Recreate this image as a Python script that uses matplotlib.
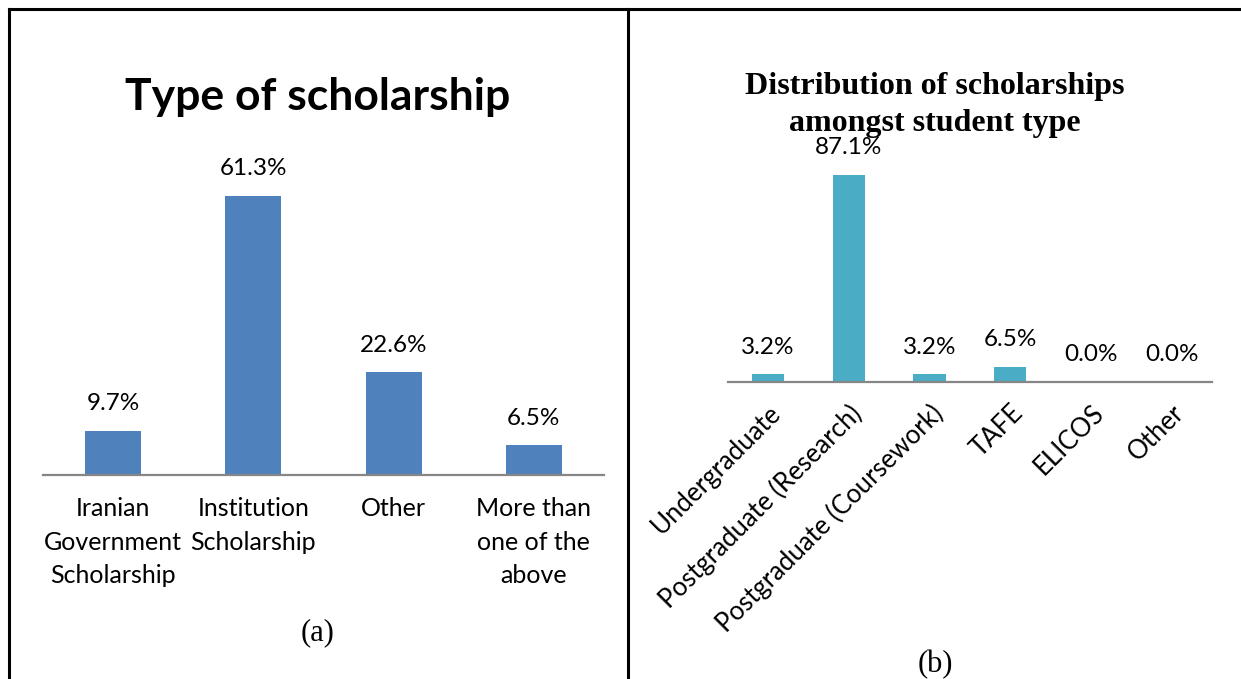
import matplotlib
matplotlib.use("Agg")
import matplotlib.pyplot as plt
from matplotlib.lines import Line2D

# Panel (a): type of scholarship
types = ["Iranian\nGovernment\nScholarship", "Institution\nScholarship", "Other",
         "More than\none of the\nabove"]
type_pct = [9.7, 61.3, 22.6, 6.5]

# Panel (b): scholarships by student type
students = ["Undergraduate", "Postgraduate (Research)", "Postgraduate (Coursework)",
            "TAFE", "ELICOS", "Other"]
student_pct = [3.2, 87.1, 3.2, 6.5, 0.0, 0.0]

W, H = 1241, 679
fig = plt.figure(figsize=(W / 100, H / 100), dpi=100)
fig.patch.set_facecolor("white")

SANS = ["Lato", "DejaVu Sans"]
SERIF = ["Liberation Serif", "DejaVu Serif"]
AXIS_GREY = "#868686"


def px_axes(x0, x1, y_base, y_top):
    return fig.add_axes([x0 / W, 1 - y_base / H, (x1 - x0) / W, (y_base - y_top) / H])


def style(ax):
    for s in ("top", "right", "left"):
        ax.spines[s].set_visible(False)
    ax.spines["bottom"].set_color(AXIS_GREY)
    ax.spines["bottom"].set_linewidth(1.6)
    ax.set_yticks([])
    ax.tick_params(axis="x", length=0)
    ax.set_facecolor("none")


# ---- left chart ----
axL = px_axes(43, 604, 475, 475 - 70 * 4.55)
xL = range(len(types))
barsL = axL.bar(xL, type_pct, width=0.4, color="#4F81BD")
axL.set_xlim(-0.5, len(types) - 0.5)
axL.set_ylim(0, 70)
style(axL)
axL.set_xticks(list(xL))
axL.set_xticklabels(types, family=SANS, fontsize=18, linespacing=1.55)
axL.tick_params(axis="x", pad=16)
for b, v in zip(barsL, type_pct):
    axL.annotate(f"{v:.1f}%", (b.get_x() + b.get_width() / 2, v),
                 xytext=(0, 12), textcoords="offset points",
                 ha="center", va="bottom", family=SANS, fontsize=17.5)
fig.text(318 / W, 1 - 97 / H, "Type of scholarship", ha="center", va="center",
         family=SANS, fontsize=32, fontweight="bold")
fig.text(318 / W, 1 - 633 / H, "(a)", ha="center", va="center",
         family=SERIF, fontsize=22)

# ---- right chart ----
axR = px_axes(727.7, 1212, 382, 382 - 100 * 2.377)
xR = range(len(students))
barsR = axR.bar(xR, student_pct, width=0.4, color="#4BACC6")
axR.set_xlim(-0.5, len(students) - 0.5)
axR.set_ylim(0, 100)
style(axR)
axR.set_xticks(list(xR))
axR.set_xticklabels(students, family=SANS, fontsize=18.5, rotation=45,
                    ha="right", va="top", rotation_mode="anchor")
axR.tick_params(axis="x", pad=13)
for b, v in zip(barsR, student_pct):
    axR.annotate(f"{v:.1f}%", (b.get_x() + b.get_width() / 2, v),
                 xytext=(0, 12), textcoords="offset points",
                 ha="center", va="bottom", family=SANS, fontsize=17.5)
fig.text(935 / W, 1 - 105 / H, "Distribution of scholarships\namongst student type",
         ha="center", va="center", family=SERIF, fontsize=23, fontweight="bold",
         linespacing=1.32)
fig.text(935 / W, 1 - 665 / H, "(b)", ha="center", va="center",
         family=SERIF, fontsize=22)

# ---- table frame ----
frame = dict(color="black", linewidth=2.2, transform=fig.transFigure)
fig.add_artist(Line2D([9 / W, 1], [1 - 8.5 / H, 1 - 8.5 / H], **frame))
fig.add_artist(Line2D([9 / W, 9 / W], [0, 1 - 8.5 / H], **frame))
fig.add_artist(Line2D([628 / W, 628 / W], [0, 1 - 8.5 / H], **frame))

fig.savefig("out.png", dpi=100)
